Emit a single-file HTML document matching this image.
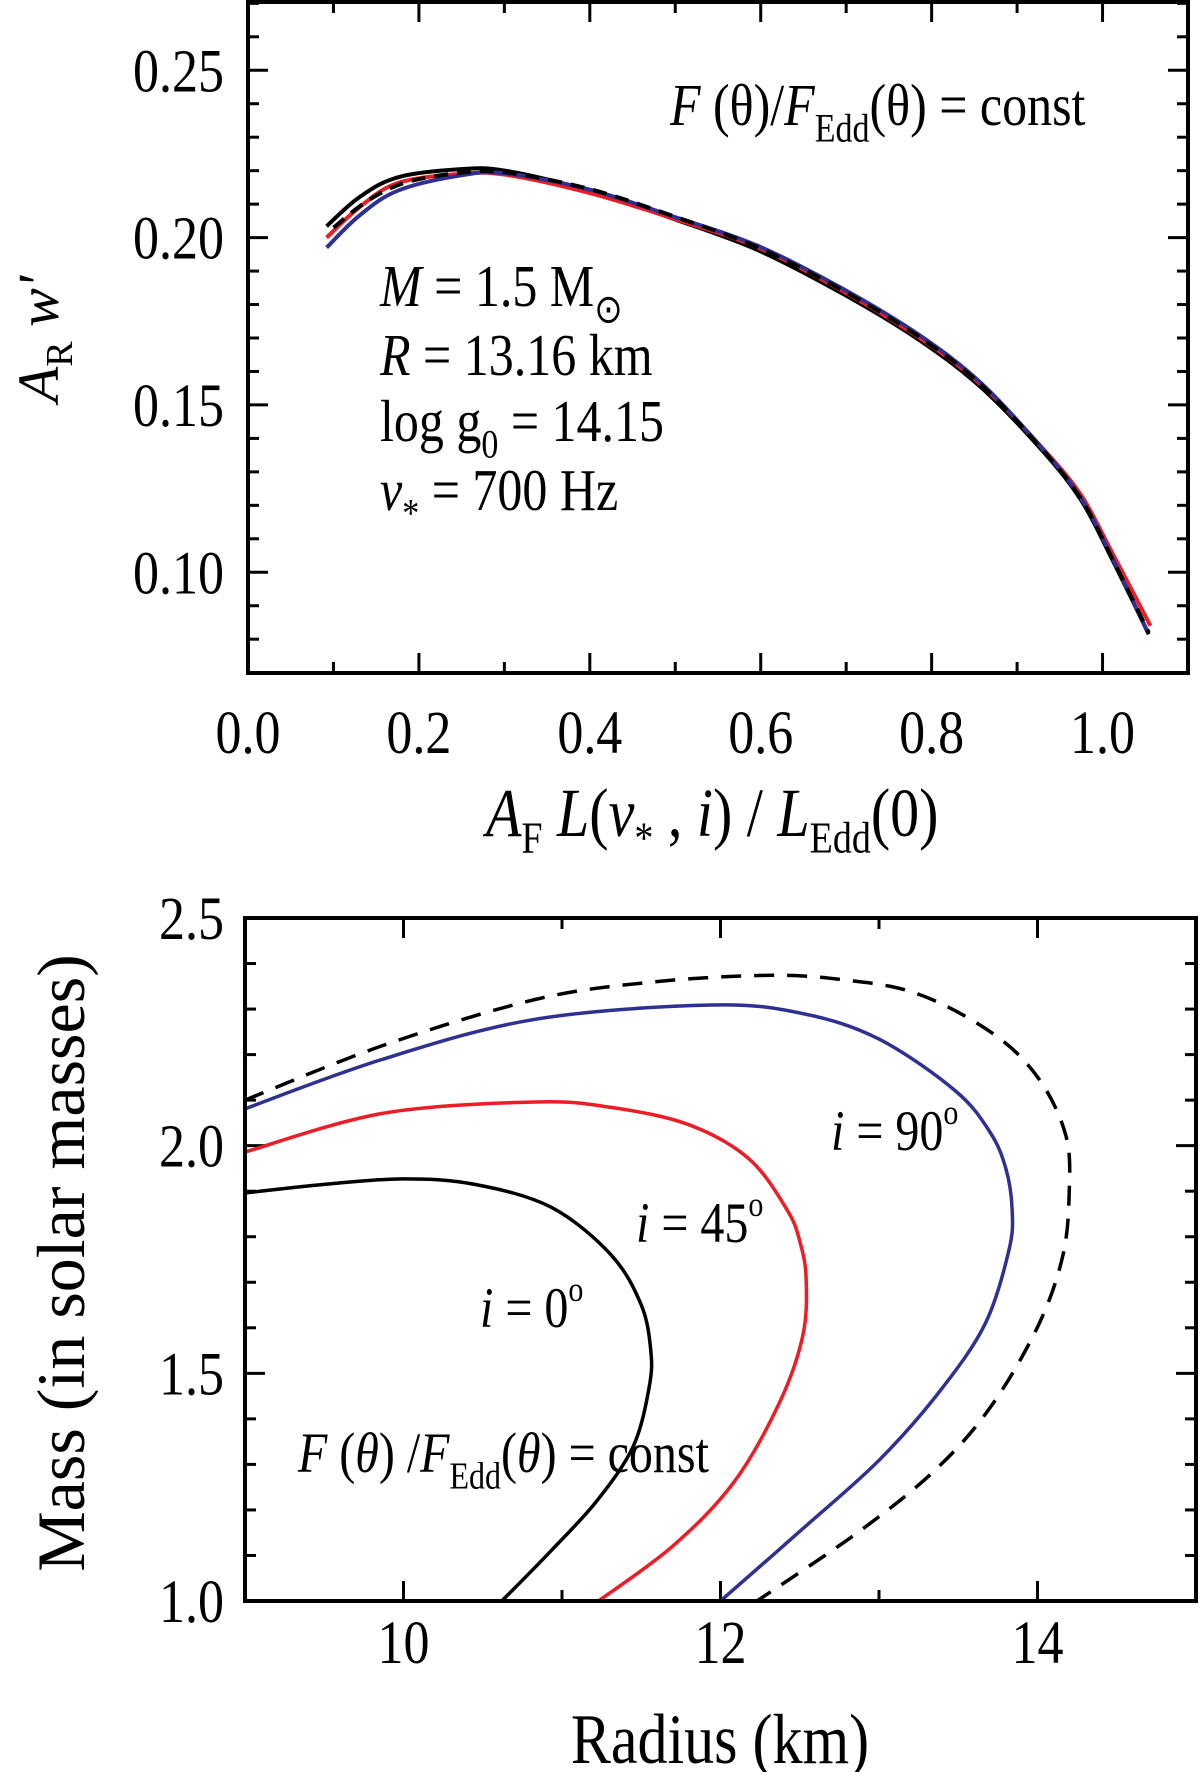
<!DOCTYPE html>
<html><head><meta charset="utf-8"><style>
html,body{margin:0;padding:0;background:#fff;}
svg{display:block;font-family:"Liberation Serif",serif;}
</style></head><body>
<svg id="fig" width="1200" height="1772" viewBox="0 0 1200 1772" xmlns="http://www.w3.org/2000/svg">
<g id="topchart"></g>
<g id="botchart"></g>
<g font-size="50">
<text class="st" x="670" y="125"><tspan font-style="italic">F</tspan> (θ)/<tspan font-style="italic">F</tspan><tspan font-size="34" dy="14">Edd</tspan><tspan dy="-14">(θ) = const</tspan></text>
<text class="st" x="380" y="306"><tspan font-style="italic">M</tspan> = 1.5 M<tspan font-size="34" dy="14">⊙</tspan></text>
<text class="st" x="380" y="375"><tspan font-style="italic">R</tspan> = 13.16 km</text>
<text class="st" x="380" y="441">log g<tspan font-size="34" dy="14">0</tspan><tspan dy="-14"> = 14.15</tspan></text>
<text class="st" x="380" y="510"><tspan font-style="italic">ν</tspan><tspan font-size="34" dy="14">*</tspan><tspan dy="-14"> = 700 Hz</tspan></text>
</g>
<text class="st" x="486" y="836" font-size="58"><tspan font-style="italic">A</tspan><tspan font-size="38" dy="14">F</tspan><tspan dy="-14" font-style="italic"> L</tspan>(<tspan font-style="italic">ν</tspan><tspan font-size="38" dy="14">*</tspan><tspan dy="-14"> , </tspan><tspan font-style="italic">i</tspan>) / <tspan font-style="italic">L</tspan><tspan font-size="38" dy="14">Edd</tspan><tspan dy="-14">(0)</tspan></text>
<text transform="translate(58,339) rotate(-90)" text-anchor="middle" font-size="58"><tspan font-style="italic">A</tspan><tspan font-size="38" dy="14">R</tspan><tspan dy="-14" font-style="italic"> w'</tspan></text>
<text class="st" x="720" y="1763" text-anchor="middle" font-size="60">Radius (km)</text>
<text transform="translate(84,1263) rotate(-90)" text-anchor="middle" font-size="68">Mass (in solar masses)</text>
<g font-size="48">
<text class="st" x="831" y="1150"><tspan font-style="italic">i</tspan> = 90<tspan font-size="30" dy="-22">o</tspan></text>
<text class="st" x="636" y="1242"><tspan font-style="italic">i</tspan> = 45<tspan font-size="30" dy="-22">o</tspan></text>
<text class="st" x="480" y="1327"><tspan font-style="italic">i</tspan> = 0<tspan font-size="30" dy="-22">o</tspan></text>
<text class="st" x="298" y="1472"><tspan font-style="italic">F</tspan> (<tspan font-style="italic">θ</tspan>) /<tspan font-style="italic">F</tspan><tspan font-size="32" dy="14">Edd</tspan><tspan dy="-14">(</tspan><tspan font-style="italic">θ</tspan>) = const</text>
</g>
</svg>
<script>
// ---- top chart data ----
const topXTicks = [0.0, 0.2, 0.4, 0.6, 0.8, 1.0];
const topXTickLabels = ["0.0", "0.2", "0.4", "0.6", "0.8", "1.0"];
const topYTicks = [0.10, 0.15, 0.20, 0.25];
const topYTickLabels = ["0.10", "0.15", "0.20", "0.25"];
const redX = [0.092, 0.130, 0.175, 0.247, 0.301, 0.400, 0.499, 0.597, 0.696, 0.786, 0.858, 0.930, 0.975, 1.011, 1.056];
const redY = [0.200, 0.209, 0.2163, 0.219, 0.2188, 0.2133, 0.2056, 0.197, 0.184, 0.170, 0.156, 0.137, 0.123, 0.106, 0.084];
const blueX = [0.092, 0.130, 0.175, 0.247, 0.301, 0.400, 0.499, 0.597, 0.696, 0.786, 0.858, 0.930, 0.975, 1.011, 1.052];
const blueY = [0.197, 0.2065, 0.214, 0.2185, 0.2192, 0.2143, 0.2062, 0.1975, 0.1847, 0.1708, 0.1565, 0.1368, 0.122, 0.1045, 0.0825];
const blackX = [0.092, 0.130, 0.175, 0.247, 0.301, 0.400, 0.499, 0.597, 0.696, 0.786, 0.858, 0.930, 0.975, 1.011, 1.054];
const blackY = [0.2034, 0.212, 0.218, 0.2204, 0.2200, 0.2140, 0.2055, 0.1962, 0.1832, 0.1693, 0.1552, 0.1362, 0.1215, 0.104, 0.0815];
const dashX = [0.100, 0.140, 0.185, 0.247, 0.301, 0.400, 0.499, 0.597, 0.696, 0.786, 0.858, 0.930, 0.975, 1.011, 1.054];
const dashY = [0.2030, 0.2110, 0.2165, 0.2193, 0.2195, 0.2145, 0.2063, 0.1970, 0.1842, 0.1702, 0.1560, 0.1365, 0.1218, 0.1042, 0.0820];
// ---- bottom chart data ----
const botXTicks = [10, 12, 14];
const botXTickLabels = ["10", "12", "14"];
const botYTicks = [1.0, 1.5, 2.0, 2.5];
const botYTickLabels = ["1.0", "1.5", "2.0", "2.5"];
const i0R = [9.0, 9.5, 10.0, 10.45, 10.93, 11.31, 11.50, 11.56, 11.55, 11.45, 11.22, 10.93, 10.62];
const i0M = [1.896, 1.915, 1.927, 1.915, 1.865, 1.76, 1.65, 1.55, 1.47, 1.34, 1.22, 1.11, 1.0];
const i45R = [9.0, 9.87, 10.83, 11.31, 11.80, 12.18, 12.42, 12.50, 12.54, 12.52, 12.37, 12.08, 11.70, 11.23];
const i45M = [1.986, 2.071, 2.096, 2.084, 2.046, 1.971, 1.859, 1.79, 1.709, 1.584, 1.434, 1.259, 1.121, 1.0];
const i90R = [9.0, 9.87, 10.83, 11.94, 12.52, 13.0, 13.48, 13.70, 13.80, 13.84, 13.82, 13.67, 13.38, 13.0, 12.52, 12.0];
const i90M = [2.081, 2.19, 2.2775, 2.309, 2.29, 2.234, 2.121, 2.03, 1.95, 1.86, 1.771, 1.609, 1.459, 1.309, 1.159, 1.0];
const dashR = [9.0, 9.87, 10.83, 11.56, 12.28, 12.76, 13.24, 13.72, 14.01, 14.18, 14.2, 14.16, 14.01, 13.72, 13.38, 12.9, 12.23];
const dashM = [2.10, 2.22, 2.321, 2.359, 2.374, 2.365, 2.334, 2.246, 2.146, 2.021, 1.896, 1.759, 1.609, 1.434, 1.296, 1.159, 1.0];

const NS = "http://www.w3.org/2000/svg";
function mk(tag, attrs, parent) {
  const e = document.createElementNS(NS, tag);
  for (const k in attrs) e.setAttribute(k, attrs[k]);
  parent.appendChild(e);
  return e;
}
function smooth(xs, ys, sx, sy) {
  const p = xs.map((x, i) => [sx(x), sy(ys[i])]);
  let d = "M" + p[0][0].toFixed(1) + "," + p[0][1].toFixed(1);
  for (let i = 0; i < p.length - 1; i++) {
    const p0 = p[Math.max(0, i - 1)], p1 = p[i], p2 = p[i + 1], p3 = p[Math.min(p.length - 1, i + 2)];
    const c1 = [p1[0] + (p2[0] - p0[0]) / 6, p1[1] + (p2[1] - p0[1]) / 6];
    const c2 = [p2[0] - (p3[0] - p1[0]) / 6, p2[1] - (p3[1] - p1[1]) / 6];
    d += "C" + c1[0].toFixed(1) + "," + c1[1].toFixed(1) + " " + c2[0].toFixed(1) + "," + c2[1].toFixed(1) + " " + p2[0].toFixed(1) + "," + p2[1].toFixed(1);
  }
  return d;
}

// ---- top chart ----
const T = {l: 248, r: 1188, t: 2, b: 673, x0: 0, x1: 1.1, y0: 0.0699, y1: 0.2704};
const tx = v => T.l + (v - T.x0) / (T.x1 - T.x0) * (T.r - T.l);
const ty = v => T.b - (v - T.y0) / (T.y1 - T.y0) * (T.b - T.t);
const topG = document.getElementById("topchart");
const tclip = mk("clipPath", {id: "tclip"}, topG);
mk("rect", {x: T.l, y: T.t, width: T.r - T.l, height: T.b - T.t}, tclip);
for (let k = 0; k <= 11; k++) {
  const v = k * 0.1, X = tx(v), len = k % 2 === 0 ? 20 : 11;
  const t1 = mk("line", {x1: X, x2: X, y1: T.b, y2: T.b - len, stroke: "#000", "stroke-width": 3}, topG);
  
  
  const t2 = mk("line", {x1: X, x2: X, y1: T.t, y2: T.t + len, stroke: "#000", "stroke-width": 3}, topG);
  
  
}
for (let k = 7; k <= 27; k++) {
  const v = k * 0.01, Y = ty(v), len = k % 5 === 0 ? 20 : 11;
  const t1 = mk("line", {x1: T.l, x2: T.l + len, y1: Y, y2: Y, stroke: "#000", "stroke-width": 3}, topG);
  
  
  const t2 = mk("line", {x1: T.r, x2: T.r - len, y1: Y, y2: Y, stroke: "#000", "stroke-width": 3}, topG);
  
  
}
topXTicks.forEach((v, i) => {
  const t = mk("text", {x: tx(v), y: 753, "text-anchor": "middle", "font-size": 52, "class": "st"}, topG);
  t.textContent = topXTickLabels[i];
  
  
});
topYTicks.forEach((v, i) => {
  const t = mk("text", {x: 224, y: ty(v) + 21, "text-anchor": "end", "font-size": 52, "class": "st"}, topG);
  t.textContent = topYTickLabels[i];
  
  
});
const tser = [
  [blackX, blackY, "#000", "", "top-series-black"],
  [redX, redY, "#ee1c25", "", "top-series-red"],
  [blueX, blueY, "#2e3192", "", "top-series-blue"],
  [dashX, dashY, "#000", "14 9", "top-series-dashed"]
];
tser.forEach(s => {
  const p = mk("path", {d: smooth(s[0], s[1], tx, ty), fill: "none", stroke: s[2], "stroke-width": 4, "clip-path": "url(#tclip)"}, topG);
  if (s[3]) p.setAttribute("stroke-dasharray", s[3]);
  
  
});
const tf = mk("rect", {x: T.l, y: T.t, width: T.r - T.l, height: T.b - T.t, fill: "none", stroke: "#000", "stroke-width": 4}, topG);



// ---- bottom chart ----
const B = {l: 245, r: 1196, t: 918, b: 1601, x0: 9, x1: 15, y0: 1.0, y1: 2.5};
const bx = v => B.l + (v - B.x0) / (B.x1 - B.x0) * (B.r - B.l);
const by = v => B.b - (v - B.y0) / (B.y1 - B.y0) * (B.b - B.t);
const botG = document.getElementById("botchart");
const bclip = mk("clipPath", {id: "bclip"}, botG);
mk("rect", {x: B.l, y: B.t, width: B.r - B.l, height: B.b - B.t}, bclip);
for (let v = 10; v <= 14; v++) {
  const X = bx(v), len = v % 2 === 0 ? 20 : 11;
  const t1 = mk("line", {x1: X, x2: X, y1: B.b, y2: B.b - len, stroke: "#000", "stroke-width": 3}, botG);
  
  
  const t2 = mk("line", {x1: X, x2: X, y1: B.t, y2: B.t + len, stroke: "#000", "stroke-width": 3}, botG);
  
  
}
for (let k = 10; k <= 25; k++) {
  const Y = by(k / 10), len = k % 5 === 0 ? 20 : 11;
  const t1 = mk("line", {x1: B.l, x2: B.l + len, y1: Y, y2: Y, stroke: "#000", "stroke-width": 3}, botG);
  
  
  const t2 = mk("line", {x1: B.r, x2: B.r - len, y1: Y, y2: Y, stroke: "#000", "stroke-width": 3}, botG);
  
  
}
botXTicks.forEach((v, i) => {
  const t = mk("text", {x: bx(v), y: 1663, "text-anchor": "middle", "font-size": 52, "class": "st"}, botG);
  t.textContent = botXTickLabels[i];
  
  
});
botYTicks.forEach((v, i) => {
  const t = mk("text", {x: 224, y: by(v) + 21, "text-anchor": "end", "font-size": 52, "class": "st"}, botG);
  t.textContent = botYTickLabels[i];
  
  
});
const bser = [
  [dashR, dashM, "#000", "20 13", "curve-dashed"],
  [i90R, i90M, "#2e3192", "", "curve-i-90"],
  [i45R, i45M, "#ee1c25", "", "curve-i-45"],
  [i0R, i0M, "#000", "", "curve-i-0"]
];
bser.forEach(s => {
  const p = mk("path", {d: smooth(s[0], s[1], bx, by), fill: "none", stroke: s[2], "stroke-width": 3.5, "clip-path": "url(#bclip)"}, botG);
  if (s[3]) p.setAttribute("stroke-dasharray", s[3]);
  
  
});
const bf = mk("rect", {x: B.l, y: B.t, width: B.r - B.l, height: B.b - B.t, fill: "none", stroke: "#000", "stroke-width": 4}, botG);



// vertically stretch horizontal text to match the tall serif look
document.querySelectorAll("text.st").forEach(t => {
  const y = parseFloat(t.getAttribute("y"));
  t.setAttribute("transform", "translate(0," + y + ") scale(1,1.18) translate(0," + (-y) + ")");
});
</script>
</body></html>
